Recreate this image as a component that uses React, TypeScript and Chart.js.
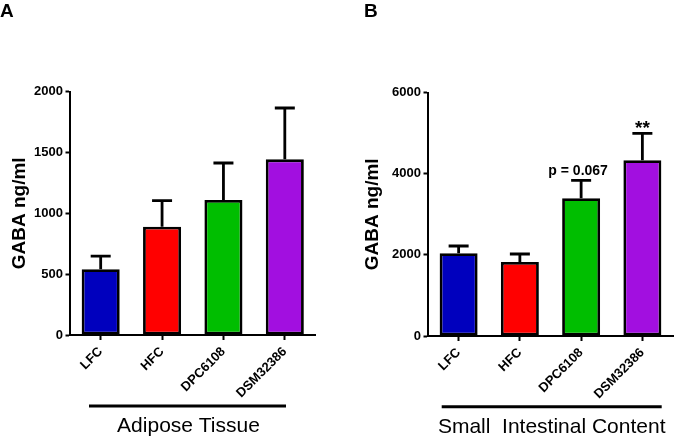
import React, { useEffect, useRef } from 'react';
import { Chart, registerables } from 'chart.js';

Chart.register(...registerables);

// ---- data ----
const categories = ['LFC', 'HFC', 'DPC6108', 'DSM32386'];
const adiposeMeans = [540, 890, 1110, 1444];
const adiposeErrors = [109, 214, 304, 422];
const adiposeMarks = ['', '', '', ''];
const adiposeTicks = [0, 500, 1000, 1500, 2000];
const intestinalMeans = [2039, 1825, 3396, 4333];
const intestinalErrors = [180, 197, 444, 666];
const intestinalMarks = ['', '', 'p = 0.067', '**'];
const intestinalTicks = [0, 2000, 4000, 6000];
const barColors = ['#0000BE', '#FF0000', '#00BE00', '#A20FE0'];
const yTitle = 'GABA ng/ml';

const FONT = "'Liberation Sans', Arial, Helvetica, sans-serif";

type PanelLayout = {
  left: number;
  areaLeft: number;
  areaRight: number;
  areaTop: number;
  areaBottom: number;
  titleX: number;
  letterX: number;
  lineX1: number;
  lineX2: number;
  lineY: number;
  groupX: number;
  groupY: number;
};

type PanelProps = {
  letter: string;
  group: string;
  means: number[];
  errors: number[];
  marks: string[];
  ticks: number[];
  layout: PanelLayout;
};

const W = 337;
const H = 437;

function makeDecor(p: PanelProps) {
  return {
    id: 'decor' + p.letter,
    afterDatasetsDraw(chart: any) {
      const ctx = chart.ctx as CanvasRenderingContext2D;
      const meta = chart.getDatasetMeta(0);
      const ys = chart.scales.y;
      ctx.save();
      ctx.strokeStyle = '#000';
      ctx.fillStyle = '#000';
      ctx.lineWidth = 2.8;
      meta.data.forEach((bar: any, i: number) => {
        const top = ys.getPixelForValue(p.means[i]);
        const errTop = ys.getPixelForValue(p.means[i] + p.errors[i]);
        ctx.beginPath();
        ctx.moveTo(bar.x, top);
        ctx.lineTo(bar.x, errTop);
        ctx.moveTo(bar.x - 10, errTop);
        ctx.lineTo(bar.x + 10, errTop);
        ctx.stroke();
        const m = p.marks[i];
        if (m) {
          const star = m.indexOf('*') === 0;
          ctx.font = `bold ${star ? 19 : 14}px ${FONT}`;
          ctx.textAlign = 'center';
          ctx.textBaseline = 'alphabetic';
          ctx.fillText(m, bar.x - (star ? 0 : 3), errTop - (star ? -0.5 : 5));
        }
      });
      ctx.restore();
    },
    afterDraw(chart: any) {
      const ctx = chart.ctx as CanvasRenderingContext2D;
      const L = p.layout;
      const area = chart.chartArea;
      ctx.save();
      ctx.fillStyle = '#000';
      ctx.strokeStyle = '#000';
      // panel letter
      ctx.font = `bold 19px ${FONT}`;
      ctx.textAlign = 'left';
      ctx.textBaseline = 'alphabetic';
      ctx.fillText(p.letter, L.letterX, 17);
      // y axis title
      ctx.save();
      ctx.translate(L.titleX, (area.top + area.bottom) / 2);
      ctx.rotate(-Math.PI / 2);
      ctx.font = `bold 19px ${FONT}`;
      ctx.textAlign = 'center';
      ctx.textBaseline = 'alphabetic';
      ctx.fillText(yTitle, 0, 0);
      ctx.restore();
      // group bar and label
      ctx.lineWidth = 3;
      ctx.beginPath();
      ctx.moveTo(L.lineX1, L.lineY);
      ctx.lineTo(L.lineX2, L.lineY);
      ctx.stroke();
      ctx.font = `21px ${FONT}`;
      ctx.textAlign = 'center';
      ctx.textBaseline = 'alphabetic';
      ctx.fillText(p.group, L.groupX, L.groupY);
      ctx.restore();
    },
  };
}

function Panel(p: PanelProps) {
  const ref = useRef<HTMLCanvasElement>(null);
  useEffect(() => {
    const L = p.layout;
    const step = p.ticks[1] - p.ticks[0];
    const chart = new Chart(ref.current as HTMLCanvasElement, {
      type: 'bar',
      data: {
        labels: categories,
        datasets: [
          {
            data: p.means,
            backgroundColor: barColors,
            borderColor: '#000',
            borderWidth: 2.8,
            borderSkipped: false,
            barPercentage: 0.62,
            categoryPercentage: 1,
          },
        ],
      },
      options: {
        animation: false,
        responsive: false,
        devicePixelRatio: 1,
        layout: {
          padding: { left: 0, right: W - L.areaRight, top: L.areaTop, bottom: 0 },
        },
        plugins: { legend: { display: false }, tooltip: { enabled: false } },
        scales: {
          x: {
            offset: true,
            ticks: {
              color: '#000',
              font: { family: FONT, size: 13, weight: 'bold' },
              minRotation: 45,
              maxRotation: 45,
              autoSkip: false,
              padding: 4,
            },
            grid: {
              display: true,
              drawOnChartArea: false,
              offset: false,
              tickLength: 5,
              tickWidth: 2,
              tickColor: '#000',
            },
            border: { display: true, color: '#000', width: 2 },
            afterFit: (s: any) => {
              s.height = H - L.areaBottom;
            },
          },
          y: {
            min: p.ticks[0],
            max: p.ticks[p.ticks.length - 1],
            ticks: {
              stepSize: step,
              color: '#000',
              font: { family: FONT, size: 13, weight: 'bold' },
              padding: 2.5,
              callback: (v: any) => String(v),
            },
            grid: {
              display: true,
              drawOnChartArea: false,
              tickLength: 4.5,
              tickWidth: 2,
              tickColor: '#000',
            },
            border: { display: true, color: '#000', width: 2 },
            title: { display: false },
            afterFit: (s: any) => {
              s.width = L.areaLeft;
            },
          },
        },
      } as any,
      plugins: [makeDecor(p)],
    });
    return () => chart.destroy();
  }, []);
  return (
    <canvas
      ref={ref}
      width={W}
      height={H}
      style={{ position: 'absolute', left: p.layout.left, top: 0, width: W, height: H }}
    />
  );
}

const layoutA: PanelLayout = {
  left: 0,
  areaLeft: 70,
  areaRight: 315.5,
  areaTop: 91.7,
  areaBottom: 335,
  titleX: 25,
  letterX: 0,
  lineX1: 89,
  lineX2: 286,
  lineY: 406,
  groupX: 188.5,
  groupY: 432,
};

const layoutB: PanelLayout = {
  left: 337,
  areaLeft: 91,
  areaRight: 336,
  areaTop: 92.7,
  areaBottom: 336,
  titleX: 40.8,
  letterX: 27,
  lineX1: 104.7,
  lineX2: 324.7,
  lineY: 406.7,
  groupX: 214.7,
  groupY: 433,
};

export default function App() {
  return (
    <div style={{ position: 'absolute', left: 0, top: 0, width: 674, height: 437, background: '#fff' }}>
      <Panel
        letter="A"
        group="Adipose Tissue"
        means={adiposeMeans}
        errors={adiposeErrors}
        marks={adiposeMarks}
        ticks={adiposeTicks}
        layout={layoutA}
      />
      <Panel
        letter="B"
        group="Small  Intestinal Content"
        means={intestinalMeans}
        errors={intestinalErrors}
        marks={intestinalMarks}
        ticks={intestinalTicks}
        layout={layoutB}
      />
    </div>
  );
}
